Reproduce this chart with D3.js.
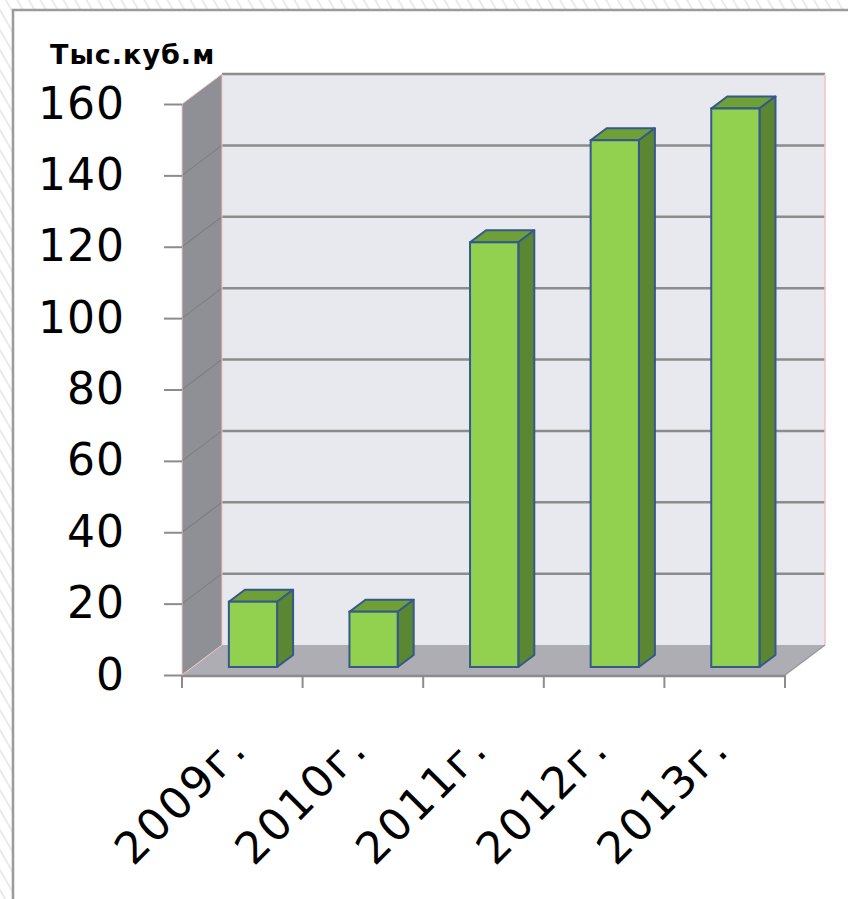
<!DOCTYPE html>
<html>
<head>
<meta charset="utf-8">
<script src="https://cdn.jsdelivr.net/npm/d3@7"></script>
<style>
  html, body { margin: 0; padding: 0; background: #fff; }
  svg { display: block; font-family: "DejaVu Sans", Verdana, sans-serif; }
</style>
</head>
<body>
<svg id="chart" width="848" height="899"></svg>
<script>
// Chart data
const categories = ['2009г.', '2010г.', '2011г.', '2012г.', '2013г.'];
const values = [18.3, 15.5, 119, 147.6, 156.5];
const yTicks = [0, 20, 40, 60, 80, 100, 120, 140, 160];
const unitLabel = 'Тыс.куб.м';

const svg = d3.select('#chart');
const W = 848, H = 899;

// Hatched background outside the panel
const defs = svg.append('defs');
const hatch = defs.append('pattern')
  .attr('id', 'hatch')
  .attr('width', 10).attr('height', 10)
  .attr('patternUnits', 'userSpaceOnUse')
  .attr('patternTransform', 'rotate(-30)');
hatch.append('rect').attr('width', 10).attr('height', 10).attr('fill', '#fff');
hatch.append('line')
  .attr('x1', 5).attr('y1', 0).attr('x2', 5).attr('y2', 10)
  .attr('stroke', '#e0e0e0').attr('stroke-width', 1.3);

svg.append('rect').attr('width', W).attr('height', H).attr('fill', 'url(#hatch)');

// White panel (runs off right and bottom edges)
svg.append('rect')
  .attr('x', 13).attr('y', 10)
  .attr('width', W + 20).attr('height', H + 20)
  .attr('fill', '#fff')
  .attr('stroke', '#9b9b9b').attr('stroke-width', 2.5);

// 3D frame geometry
const x0 = 182, x1 = 785;          // front axis extent
const DX = 40, DY = -30;           // depth offset front -> back
const y = d3.scaleLinear().domain([0, 160]).range([675, 104]);
const x = d3.scaleBand().domain(categories).range([x0, x1]);

const yTop = y(160), yBot = y(0);
const poly = pts => pts.map(p => p.join(',')).join(' ');

// Back wall
svg.append('polygon')
  .attr('points', poly([[x0 + DX, yTop + DY], [x1 + DX, yTop + DY], [x1 + DX, yBot + DY], [x0 + DX, yBot + DY]]))
  .attr('fill', '#e8e8ef');

// Left side wall
svg.append('polygon')
  .attr('points', poly([[x0, yTop], [x0 + DX, yTop + DY], [x0 + DX, yBot + DY], [x0, yBot]]))
  .attr('fill', '#8f9095');

// Floor
svg.append('polygon')
  .attr('points', poly([[x0, yBot], [x0 + DX, yBot + DY], [x1 + DX, yBot + DY], [x1, yBot]]))
  .attr('fill', '#adadb3');

// Gridlines: back wall and side wall
const grid = svg.append('g');
grid.selectAll('line.back')
  .data(yTicks.filter(t => t > 0))
  .join('line')
  .attr('class', 'back')
  .attr('x1', x0 + DX).attr('x2', x1 + DX)
  .attr('y1', d => y(d) + DY).attr('y2', d => y(d) + DY)
  .attr('stroke', '#8c8c8c').attr('stroke-width', 2.5);
grid.selectAll('line.side')
  .data(yTicks.filter(t => t > 0 && t < 160))
  .join('line')
  .attr('class', 'side')
  .attr('x1', x0).attr('y1', d => y(d))
  .attr('x2', x0 + DX).attr('y2', d => y(d) + DY)
  .attr('stroke', '#7e7f84').attr('stroke-width', 1.2);

// Wall edges (pinkish)
const edge = '#f2c4c4';
svg.append('polyline')
  .attr('points', poly([[x0, yBot], [x0, yTop], [x0 + DX, yTop + DY], [x0 + DX, yBot + DY]]))
  .attr('fill', 'none').attr('stroke', edge).attr('stroke-width', 1);
svg.append('line')
  .attr('x1', x1 + DX).attr('x2', x1 + DX)
  .attr('y1', yTop + DY).attr('y2', yBot + DY)
  .attr('stroke', edge).attr('stroke-width', 1.5);
svg.append('line')
  .attr('x1', x0).attr('y1', yBot).attr('x2', x0 + DX).attr('y2', yBot + DY)
  .attr('stroke', edge).attr('stroke-width', 1);
svg.append('line')
  .attr('x1', x1).attr('y1', yBot).attr('x2', x1 + DX).attr('y2', yBot + DY)
  .attr('stroke', '#9a9a9e').attr('stroke-width', 1.5);

// Bars (3D boxes)
const bw = x.bandwidth();
const barW = bw * 0.4;
const t0 = 8 / 30;    // front face depth fraction
const td = 0.4;       // bar depth fraction
const fx = t0 * DX, fy = t0 * DY;
const sx = td * DX, sy = td * DY;

const bars = svg.append('g').selectAll('g.bar')
  .data(categories.map((c, i) => ({ c, v: values[i] })))
  .join('g').attr('class', 'bar');

const barStroke = '#34598a';
bars.each(function(d) {
  const g = d3.select(this);
  const L = x(d.c) + (bw - barW) / 2 + fx;
  const R = L + barW;
  const T = y(d.v) + fy;
  const B = y(0) + fy;
  // top
  g.append('polygon')
    .attr('points', poly([[L, T], [L + sx, T + sy], [R + sx, T + sy], [R, T]]))
    .attr('fill', '#6f9f37').attr('stroke', barStroke).attr('stroke-width', 2).attr('stroke-linejoin', 'round');
  // side
  g.append('polygon')
    .attr('points', poly([[R, T], [R + sx, T + sy], [R + sx, B + sy], [R, B]]))
    .attr('fill', '#5b8632').attr('stroke', barStroke).attr('stroke-width', 2).attr('stroke-linejoin', 'round');
  // front
  g.append('rect')
    .attr('x', L).attr('y', T).attr('width', barW).attr('height', B - T)
    .attr('fill', '#92d050').attr('stroke', barStroke).attr('stroke-width', 2);
});

// Y axis
const yAxis = svg.append('g')
  .attr('transform', `translate(${x0},0)`)
  .call(d3.axisLeft(y).tickValues(yTicks).tickSize(18).tickPadding(39));
yAxis.select('.domain').remove();
yAxis.selectAll('.tick line').attr('stroke', '#8c8c8c').attr('stroke-width', 2);
yAxis.selectAll('.tick text')
  .attr('fill', '#000')
  .style('font-family', '"DejaVu Sans", Verdana, sans-serif')
  .style('font-size', '44px')
  .style('letter-spacing', '1px');

// X axis line and boundary ticks
const xa = svg.append('g');
xa.append('line')
  .attr('x1', x0).attr('x2', x1)
  .attr('y1', yBot + 1).attr('y2', yBot + 1)
  .attr('stroke', '#8c8c8c').attr('stroke-width', 2.5);
xa.selectAll('line.tick')
  .data(d3.range(categories.length + 1))
  .join('line')
  .attr('class', 'tick')
  .attr('x1', i => x0 + i * x.step()).attr('x2', i => x0 + i * x.step())
  .attr('y1', yBot).attr('y2', yBot + 13)
  .attr('stroke', '#8c8c8c').attr('stroke-width', 2);

xa.selectAll('text.cat')
  .data(categories)
  .join('text')
  .attr('class', 'cat')
  .attr('text-anchor', 'end')
  .attr('transform', d => `translate(${x(d) + bw / 2 + 7},751) rotate(-45)`)
  .style('font-size', '44px')
  .style('letter-spacing', '2.5px')
  .attr('fill', '#000')
  .text(d => d);

// Unit label
svg.append('text')
  .attr('x', 50).attr('y', 64)
  .style('font-size', '27px')
  .style('font-weight', 'bold')
  .style('letter-spacing', '1px')
  .attr('fill', '#000')
  .text(unitLabel);
</script>
</body>
</html>
